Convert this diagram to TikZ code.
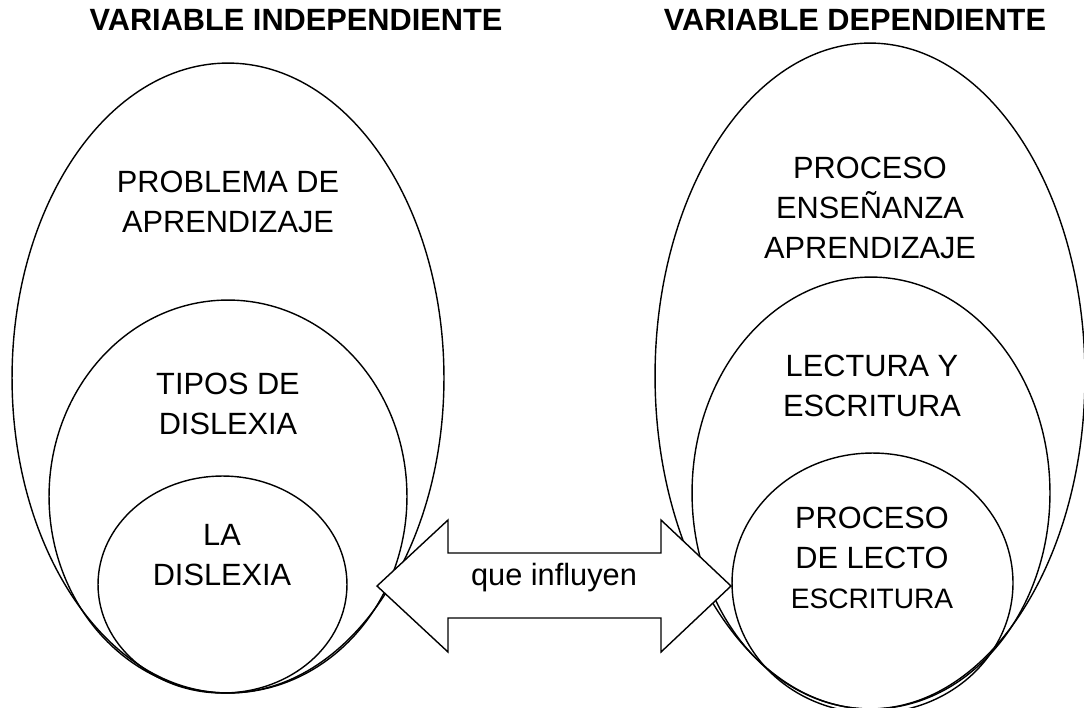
\documentclass[tikz,border=0pt]{standalone}
\usepackage{fontspec}
\setmainfont{Liberation Sans}
\usetikzlibrary{shapes,arrows}
\usetikzlibrary{calc}
\tikzset{ring/.style={draw, ellipse, line width=0.8pt, inner sep=0pt}}
\tikzset{caption/.style={align=center, font=\fontsize{17.5}{22.8}\selectfont}}
\tikzset{heading/.style={font=\fontsize{17.5}{20}\selectfont\bfseries}}
\tikzset{bigarrow/.style={draw, line width=0.8pt, fill=white, line join=miter}}

\begin{document}
\begin{tikzpicture}[x=0.02cm, y=-0.02cm]
\useasboundingbox (0,0) rectangle (1084,707);
% independiente
\node [ring, minimum width=8.64cm, minimum height=12.6cm] (problema) at (228,378) {};
\node [ring, minimum width=7.16cm, minimum height=7.86cm] (tipos) at (228,496.5) {};
\node [ring, minimum width=4.98cm, minimum height=4.34cm] (dislexia) at (222.5,584.5) {};
% dependiente
\node [ring, minimum width=8.6cm, minimum height=13.32cm] (ensenanza) at (870,376) {};
\node [ring, minimum width=7.16cm, minimum height=8.64cm] (lectura) at (871,493) {};
\node [ring, minimum width=5.62cm, minimum height=5.2cm] (lecto) at (872.5,583) {};
%Arrow
\draw [bigarrow] (377,586) -- (448,520) -- (448,553) -- (661,553) -- (661,520) -- (731,586)
  -- (661,652) -- (661,618) -- (448,618) -- (448,652) -- cycle;
\node [caption] (influyen) at (554,578) {que influyen};
%Text
\node [heading] (indep) at (296,20) {VARIABLE INDEPENDIENTE};
\node [heading] (dep) at (855,20) {VARIABLE DEPENDIENTE};
\node [caption] (tproblema) at (228,202) {PROBLEMA DE\\APRENDIZAJE};
\node [caption] (ttipos) at (228,404) {TIPOS DE\\DISLEXIA};
\node [caption] (tdislexia) at (222,555) {LA\\DISLEXIA};
\node [caption] (tensenanza) at (870,208) {PROCESO\\ENSEÑANZA\\APRENDIZAJE};
\node [caption] (tlectura) at (872,386) {LECTURA Y\\ESCRITURA};
\node [caption] (tlecto) at (872,558) {PROCESO\\DE LECTO\\{\fontsize{16}{22.8}\selectfont ESCRITURA}};
\end{tikzpicture}
\end{document}
